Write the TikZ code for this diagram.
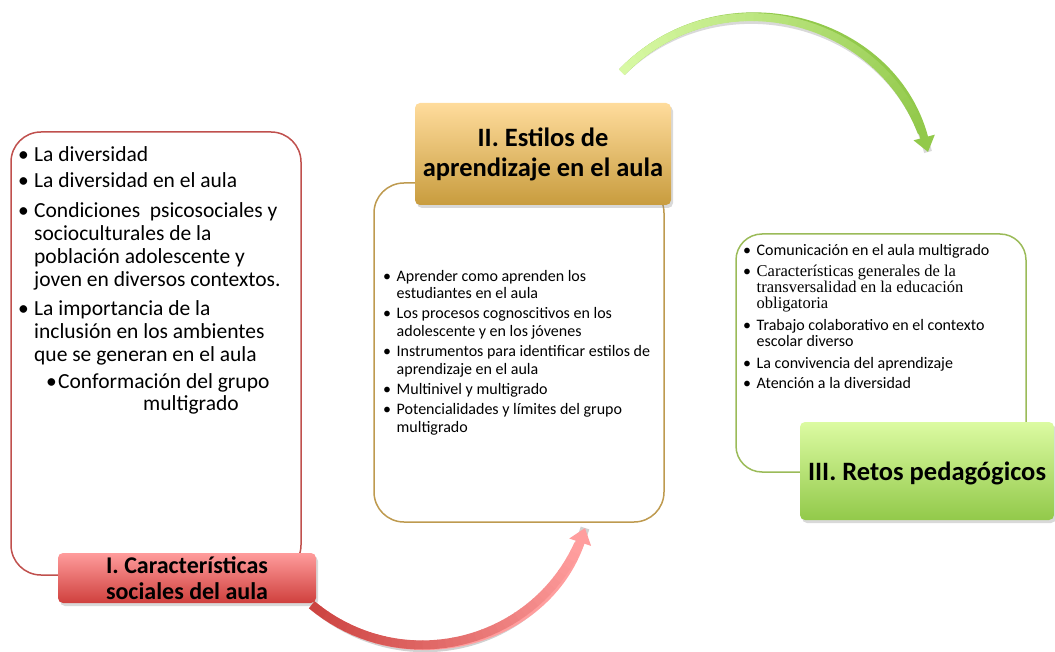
\documentclass[tikz,border=0pt]{standalone}
\usepackage{fontspec}
\setmainfont{Carlito}
\newfontfamily\serifalt{Liberation Serif}
\usetikzlibrary{arrows.meta,shadows}
\definecolor{redline}{HTML}{C0504D}
\definecolor{goldline}{HTML}{BE9A4F}
\definecolor{greenline}{HTML}{9BBB59}
\definecolor{redtop}{HTML}{FF9C9C}
\definecolor{redbot}{HTML}{CF403D}
\definecolor{goldtop}{HTML}{FFDC9C}
\definecolor{goldbot}{HTML}{C89C3E}
\definecolor{greentop}{HTML}{DCFBA2}
\definecolor{greenbot}{HTML}{92C94A}
\definecolor{redA}{HTML}{CC4441}
\definecolor{redB}{HTML}{FF9E9E}
\definecolor{grnA}{HTML}{D8F9A4}
\definecolor{grnB}{HTML}{92C94B}
\newcommand\bul{\makebox[16pt][l]{•}}
\newcommand\ind{\hspace*{16pt}}
\newcommand\bus{\makebox[13.5pt][l]{•}}
\newcommand\ins{\hspace*{13.5pt}}
\begin{document}
\begin{tikzpicture}[x=1pt,y=-1pt,
  outline/.style={draw, line width=1.5pt, fill=white, inner sep=0pt},
  titlebox/.style={rounded corners=5pt, inner sep=0pt, align=center,
     font=\fontsize{26.5}{30}\selectfont\bfseries,
     drop shadow={shadow xshift=2pt, shadow yshift=-3pt, opacity=0.3}},
  listtext/.style={inner sep=0pt, align=left, anchor=base west},
  flow/.style={line width=9pt, line cap=butt}
]
\useasboundingbox (0,0) rectangle (1055,652);

% outline boxes
\node[outline, draw=redline, rounded corners=30pt, minimum width=290pt, minimum height=443pt] (b1) at (156,353.5) {};
\node[outline, draw=goldline, rounded corners=30pt, minimum width=290pt, minimum height=339pt] (b2) at (519,352.5) {};
\node[outline, draw=greenline, rounded corners=26pt, minimum width=290pt, minimum height=238pt] (b3) at (881,353) {};

% lists (anchor = baseline of last line)
\node[listtext, font=\fontsize{21.5}{23}\selectfont] (l1) at (18,361) {%
\bul La diversidad\\[3pt]
\bul La diversidad en el aula\\[7pt]
\bul Condiciones\ \ psicosociales y\\
\ind socioculturales de la\\
\ind población adolescente y\\
\ind joven en diversos contextos.\\[6pt]
\bul La importancia de la\\
\ind inclusión en los ambientes\\
\ind que se generan en el aula};
\node[listtext, font=\fontsize{21.5}{22}\selectfont] (l1b) at (46,410) {%
\makebox[12pt][l]{•}Conformación del grupo\\
\hspace*{97pt}multigrado};

\node[listtext, font=\fontsize{16}{17.7}\selectfont] (l2) at (383,432) {%
\bus Aprender como aprenden los\\
\ins estudiantes en el aula\\[2.3pt]
\bus Los procesos cognoscitivos en los\\
\ins adolescente y en los jóvenes\\[2.3pt]
\bus Instrumentos para identificar estilos de\\
\ins aprendizaje en el aula\\[2.3pt]
\bus Multinivel y multigrado\\[2.3pt]
\bus Potencialidades y límites del grupo\\
\ins multigrado};

\node[listtext, font=\fontsize{16}{16.2}\selectfont] (l3) at (743,388.3) {%
\bus Comunicación en el aula multigrado\\[4.5pt]
\bus {\serifalt\fontsize{16.5}{16.2}\selectfont Características generales de la}\\
\ins {\serifalt\fontsize{16.5}{16.2}\selectfont transversalidad en la educación}\\
\ins {\serifalt\fontsize{16.5}{16.2}\selectfont obligatoria}\\[5.5pt]
\bus Trabajo colaborativo en el contexto\\
\ins escolar diverso\\[5.4pt]
\bus La convivencia del aprendizaje\\[3.8pt]
\bus Atención a la diversidad};

% title boxes
\node[titlebox, top color=redtop, bottom color=redbot, minimum width=258pt, minimum height=50pt, font=\fontsize{24}{26}\selectfont\bfseries] (t1) at (187,578) {I. Características\\sociales del aula};
\node[titlebox, top color=goldtop, bottom color=goldbot, minimum width=256pt, minimum height=102pt] (t2) at (543,154) {II. Estilos de\\aprendizaje en el aula};
\node[titlebox, top color=greentop, bottom color=greenbot, minimum width=254pt, minimum height=98pt, text depth=0pt] (t3) at (927,471) {III. Retos pedagógicos};

% red arrow
\coordinate (rs) at (312,605);
\coordinate (re) at (585,528);
\draw[flow, black, opacity=0.18, shift={(2,4)}] (rs) .. controls (405,682) and (546,643) .. (re);
\draw[flow, redB, -{Triangle[width=22pt,length=15pt]}] (rs) .. controls (405,682) and (546,643) .. (re);
\foreach \i in {0,...,40}{
  \pgfmathsetmacro\tv{0.95*\i/40}
  \path (rs) .. controls (405,682) and (546,643) .. (re) coordinate[pos=\tv] (r\i);
}
\foreach \i [evaluate=\i as \j using int(\i+1), evaluate=\i as \p using 100*\i/39] in {0,...,39}{
  \draw[flow, shorten <=-0.4pt, shorten >=-0.4pt, draw=redB!\p!redA] (r\i) -- (r\j);
}

% green arrow
\coordinate (gs) at (622,72);
\coordinate (ge) at (928,152);
\draw[flow, black, opacity=0.15, line width=8pt, shift={(2,4)}] (gs) .. controls (720,-29) and (892,16) .. (ge);
\draw[flow, line width=8pt, grnB, -{Triangle[width=21pt,length=15pt]}] (gs) .. controls (720,-29) and (892,16) .. (ge);
\foreach \i in {0,...,40}{
  \pgfmathsetmacro\tv{0.95*\i/40}
  \path (gs) .. controls (720,-29) and (892,16) .. (ge) coordinate[pos=\tv] (g\i);
}
\foreach \i [evaluate=\i as \j using int(\i+1), evaluate=\i as \p using 100*\i/39] in {0,...,39}{
  \draw[flow, line width=8pt, shorten <=-0.4pt, shorten >=-0.4pt, draw=grnB!\p!grnA] (g\i) -- (g\j);
}
\end{tikzpicture}
\end{document}
